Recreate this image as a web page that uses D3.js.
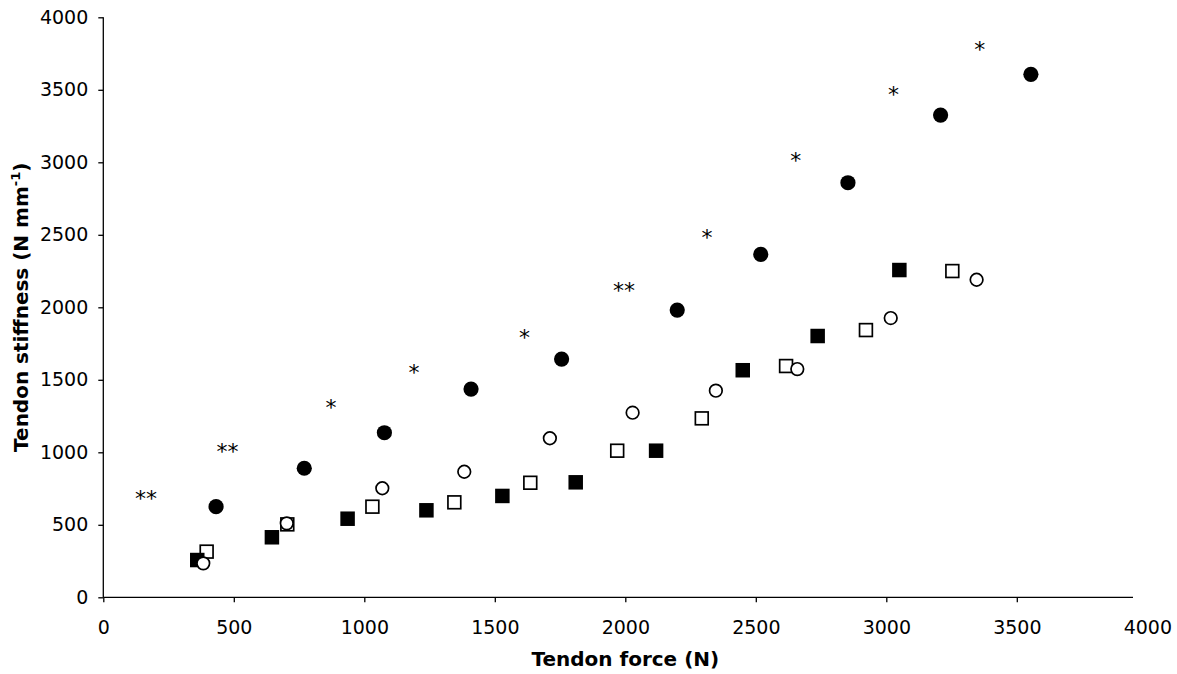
<!DOCTYPE html>
<html>
<head>
<meta charset="utf-8">
<script src="https://cdn.jsdelivr.net/npm/d3@7"></script>
<style>
  html, body { margin: 0; padding: 0; background: #fff; }
  svg { display: block; font-family: "DejaVu Sans", Verdana, sans-serif; }
</style>
</head>
<body>
<svg id="chart" width="1177" height="674"></svg>
<script>
// Tendon force (N) and tendon stiffness (N mm^-1) for the four conditions
const forceFilledCircle = [432, 770, 1077, 1409, 1756, 2199, 2519, 2853, 3208, 3554];
const stiffFilledCircle = [625, 890, 1135, 1436, 1643, 1981, 2365, 2859, 3326, 3607];

const forceOpenCircle = [383, 703, 1069, 1383, 1711, 2028, 2347, 2659, 3017, 3346];
const stiffOpenCircle = [234, 510, 752, 866, 1097, 1273, 1425, 1574, 1926, 2190];

const forceFilledSquare = [360, 646, 936, 1238, 1529, 1810, 2118, 2450, 2737, 3050];
const stiffFilledSquare = [257, 414, 542, 600, 699, 793, 1011, 1566, 1802, 2257];

const forceOpenSquare = [396, 705, 1031, 1345, 1636, 1969, 2293, 2616, 2922, 3253];
const stiffOpenSquare = [315, 503, 625, 655, 790, 1011, 1234, 1595, 1843, 2250];

// Significance markers
const sigForce = [164, 476, 872, 1190, 1614, 1995, 2313, 2653, 3028, 3358];
const sigStiff = [705, 1023, 1333, 1568, 1811, 2139, 2504, 3032, 3487, 3797];
const sigMark = ["**", "**", "*", "*", "*", "**", "*", "*", "*", "*"];

// Axis ticks
const xTicks = [0, 500, 1000, 1500, 2000, 2500, 3000, 3500, 4000];
const yTicks = [0, 500, 1000, 1500, 2000, 2500, 3000, 3500, 4000];

const zip = (xs, ys) => xs.map((x, i) => ({ x, y: ys[i] }));

const svg = d3.select("#chart");

const x = d3.scaleLinear().domain([0, 4000]).range([103.3, 1147.3]);
const y = d3.scaleLinear().domain([0, 4000]).range([597.3, 17.3]);
const xAxisEnd = 1133;

// Y axis
const yAxis = svg.append("g")
  .attr("transform", `translate(${x(0)},0)`)
  .call(d3.axisLeft(y).tickValues(yTicks).tickSize(5).tickPadding(10).tickFormat(d3.format("d")));
yAxis.select(".domain").remove();
yAxis.selectAll(".tick line").attr("stroke", "#000").attr("stroke-width", 1.3);
yAxis.selectAll(".tick text")
  .attr("font-size", 19).attr("fill", "#000")
  .attr("font-family", '"DejaVu Sans", Verdana, sans-serif');

svg.append("line")
  .attr("x1", x(0)).attr("x2", x(0))
  .attr("y1", y(4000)).attr("y2", y(0))
  .attr("stroke", "#000").attr("stroke-width", 1.3);

// X axis
const xAxis = svg.append("g")
  .attr("transform", `translate(0,${y(0)})`)
  .call(d3.axisBottom(x).tickValues(xTicks).tickSize(5).tickPadding(18).tickFormat(d3.format("d")));
xAxis.select(".domain").remove();
xAxis.selectAll(".tick line")
  .attr("stroke", "#000").attr("stroke-width", 1.3)
  .attr("display", d => x(d) > xAxisEnd ? "none" : null);
xAxis.selectAll(".tick text")
  .attr("font-size", 19).attr("fill", "#000")
  .attr("font-family", '"DejaVu Sans", Verdana, sans-serif');

svg.append("line")
  .attr("x1", x(0)).attr("x2", xAxisEnd)
  .attr("y1", y(0)).attr("y2", y(0))
  .attr("stroke", "#000").attr("stroke-width", 1.3);

// Axis titles
svg.append("text")
  .attr("x", (x(0) + x(4000)) / 2).attr("y", 666)
  .attr("text-anchor", "middle")
  .attr("font-size", 20).attr("font-weight", "bold")
  .text("Tendon force (N)");

const yTitle = svg.append("text")
  .attr("transform", `translate(28,${(y(0) + y(4000)) / 2}) rotate(-90)`)
  .attr("text-anchor", "middle")
  .attr("font-size", 20).attr("font-weight", "bold");
yTitle.append("tspan").text("Tendon stiffness (N mm");
yTitle.append("tspan").attr("dy", -8).attr("font-size", 13).text("-1");
yTitle.append("tspan").attr("dy", 8).text(")");

// Data marks
const plot = svg.append("g");

const sqOpen = 12.8, sqFilled = 14.5;
plot.selectAll("rect.open-square")
  .data(zip(forceOpenSquare, stiffOpenSquare))
  .join("rect").attr("class", "open-square")
  .attr("x", d => x(d.x) - sqOpen / 2).attr("y", d => y(d.y) - sqOpen / 2)
  .attr("width", sqOpen).attr("height", sqOpen)
  .attr("fill", "#fff").attr("stroke", "#000").attr("stroke-width", 1.7);

plot.selectAll("rect.filled-square")
  .data(zip(forceFilledSquare, stiffFilledSquare))
  .join("rect").attr("class", "filled-square")
  .attr("x", d => x(d.x) - sqFilled / 2).attr("y", d => y(d.y) - sqFilled / 2)
  .attr("width", sqFilled).attr("height", sqFilled)
  .attr("fill", "#000");

plot.selectAll("circle.filled-circle")
  .data(zip(forceFilledCircle, stiffFilledCircle))
  .join("circle").attr("class", "filled-circle")
  .attr("cx", d => x(d.x)).attr("cy", d => y(d.y)).attr("r", 7.6)
  .attr("fill", "#000");

plot.selectAll("circle.open-circle")
  .data(zip(forceOpenCircle, stiffOpenCircle))
  .join("circle").attr("class", "open-circle")
  .attr("cx", d => x(d.x)).attr("cy", d => y(d.y)).attr("r", 6.3)
  .attr("fill", "#fff").attr("stroke", "#000").attr("stroke-width", 1.7);

// Significance asterisks, centred on their positions
plot.selectAll("text.sig")
  .data(sigForce.map((f, i) => ({ x: f, y: sigStiff[i], t: sigMark[i] })))
  .join("text").attr("class", "sig")
  .attr("x", d => x(d.x)).attr("y", d => y(d.y) + 10.5)
  .attr("text-anchor", "middle")
  .attr("font-size", 22).attr("fill", "#000")
  .text(d => d.t);
</script>
</body>
</html>
